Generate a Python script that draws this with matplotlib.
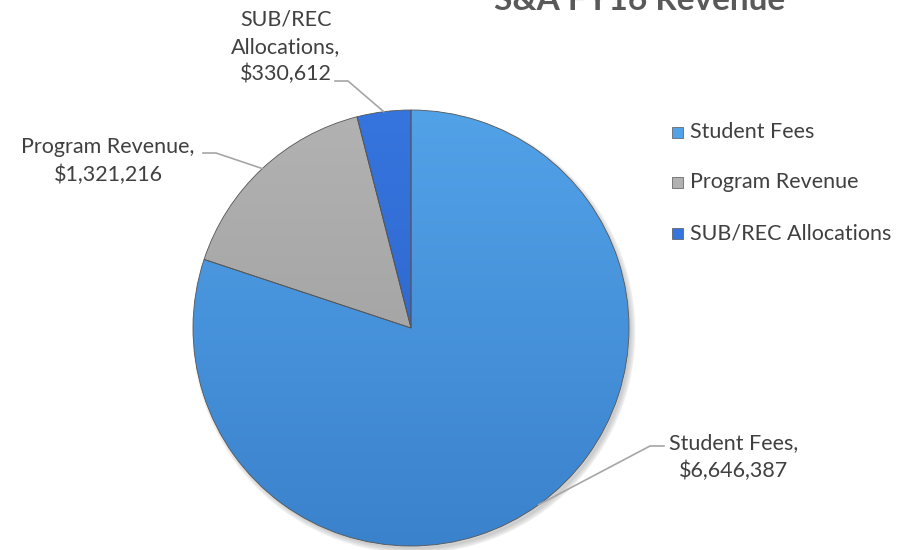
import numpy as np
import matplotlib
matplotlib.use("Agg")
import matplotlib.pyplot as plt
from matplotlib.colors import LinearSegmentedColormap

# data
categories = ["Student Fees", "Program Revenue", "SUB/REC Allocations"]
values = [6646387, 1321216, 330612]
label_text = ["Student Fees,\n$6,646,387", "Program Revenue,\n$1,321,216",
              "SUB/REC\nAllocations,\n$330,612"]
title = "S&A FY16 Revenue"

plt.rcParams['font.family'] = ['Lato', 'DejaVu Sans']
txt_col = '#404040'

W, H = 906, 550
fig = plt.figure(figsize=(W / 100, H / 100), dpi=100)
ax = fig.add_axes([0, 0, 1, 1])

cx, cy, r = 411, H - 328, 218
top_cols = ['#52a2e8', '#b2b2b2', '#3675de']
bot_cols = ['#3b82cc', '#9a9a9a', '#2a5fc4']

# soft shadow
for k in range(6):
    ax.add_patch(plt.Circle((cx + 3, cy - 4), r + 3 - k, color='black',
                            alpha=0.03, zorder=0))

wedges, _ = ax.pie(values, startangle=90, counterclock=False, center=(cx, cy),
                   radius=r, colors=top_cols, frame=True,
                   wedgeprops=dict(edgecolor='#555555', linewidth=0.6))
ax.set_xlim(0, W)
ax.set_ylim(0, H)
ax.set_aspect('equal')
ax.axis('off')

# vertical gradient inside each wedge
for w, c1, c2 in zip(wedges, top_cols, bot_cols):
    cmap = LinearSegmentedColormap.from_list('g', [c2, c1])
    grad = np.linspace(0, 1, 256).reshape(-1, 1)
    im = ax.imshow(grad, cmap=cmap, origin='lower', aspect='auto',
                   extent=(cx - r, cx + r, cy - r, cy + r), zorder=1.5)
    im.set_clip_path(w)
    w.set_facecolor('none')
    w.set_zorder(2)

# labels with leader lines (end of line, side of text)
lab_pos = [(650, H - 446, 'left'),
           (203, H - 153, 'right'),
           (335, H - 81, 'right')]
text_xy = [(734, H - 457), (108, H - 161), (286, H - 47)]
for w, t, (lx, ly, side), (tx, ty) in zip(wedges, label_text, lab_pos, text_xy):
    mid = np.deg2rad((w.theta1 + w.theta2) / 2)
    ex, ey = cx + r * np.cos(mid), cy + r * np.sin(mid)
    hx = lx + 14 if side == 'left' else lx + 13
    if side == 'left':
        xs = [ex, lx, lx + 14]
    else:
        xs = [ex, lx + 13, lx]
    ax.plot(xs, [ey, ly, ly], color='#a6a6a6', lw=1.2, zorder=3)
    ax.text(tx, ty, t, ha='center', va='center', fontsize=15.5, color=txt_col,
            linespacing=1.45)

# title, partly cut off at the top like the original
fig.text(640, H - 10, title, transform=None, fontsize=24, fontweight='bold',
         color='#595959', ha='center', va='baseline')

# legend
leg_y = [H - 132, H - 182, H - 233]
for c1, name, y in zip(top_cols, categories, leg_y):
    ax.add_patch(plt.Rectangle((672, y - 6), 11, 11, facecolor=c1,
                               edgecolor='#555555', lw=0.5))
    ax.text(690, y, name, fontsize=15.5, color=txt_col, va='center', ha='left')

fig.savefig('out.png', dpi=100)
